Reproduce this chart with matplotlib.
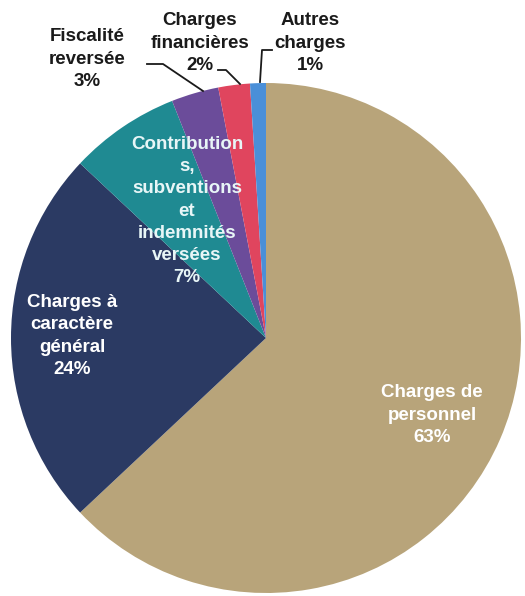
import matplotlib.pyplot as plt

# répartition des dépenses de fonctionnement
categories = [
    'Charges de\npersonnel',
    'Charges à\ncaractère\ngénéral',
    'Contribution\ns,\nsubventions\net\nindemnités\nversées',
    'Fiscalité\nreversée',
    'Charges\nfinancières',
    'Autres\ncharges',
]
values = [63, 24, 7, 3, 2, 1]
colors = ['#b8a47a', '#2b3a63', '#1f8a92', '#6b4c9a', '#e0455e', '#4a8fd8']

W, H = 525, 596
fig = plt.figure(figsize=(W / 100, H / 100), dpi=100)
ax = fig.add_axes([0, 0, 1, 1])

cx, cy, r = 266, H - 338, 255
ax.pie(values, colors=colors, startangle=90, counterclock=False,
       center=(cx, cy), radius=r, wedgeprops=dict(linewidth=0),
       frame=True)
ax.set_xlim(0, W)
ax.set_ylim(0, H)
ax.axis('off')


def px(x, y):
    return x, H - y


def lab(i):
    return f'{categories[i]}\n{values[i]}%'


# étiquettes dans les parts
inside = [(432, 415, 'white'), (72, 336, 'white'), (187, 211, '#e8f6f7')]
for i, (x, y, c) in enumerate(inside):
    ax.text(*px(x, y), lab(i), ha='center', va='center', color=c,
            fontsize=13.5, family='Liberation Sans', fontweight='bold',
            linespacing=1.4)

# étiquettes extérieures avec traits de rappel
outside = [(87, 59), (200, 43), (310, 43)]
for i, (x, y) in zip(range(3, 6), outside):
    ax.text(*px(x, y), lab(i), ha='center', va='center', color='#1a1a1a',
            fontsize=13.5, family='Liberation Sans', fontweight='bold',
            linespacing=1.4)

leaders = [
    [(147, 64), (163, 64), (203, 91)],
    [(218, 70), (226, 70), (240, 84)],
    [(272, 50), (262, 50), (260, 82)],
]
for pts in leaders:
    xs = [p[0] for p in pts]
    ys = [H - p[1] for p in pts]
    ax.plot(xs, ys, color='#1a1a1a', lw=1.3)

fig.savefig('out.png', dpi=100, facecolor='white')
